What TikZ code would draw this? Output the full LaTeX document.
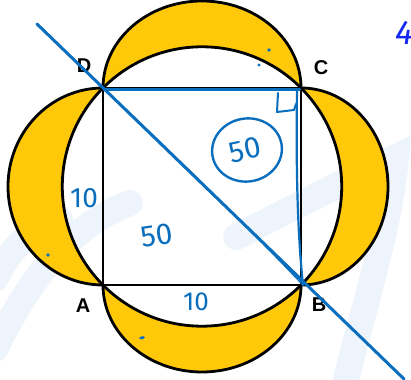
\documentclass[tikz,border=0pt]{standalone}
\usepackage{fontspec}
\usetikzlibrary{shapes.geometric}
\setmainfont{Liberation Sans}
\newfontfamily\handfont{Fira Sans}
\begin{document}
\begin{tikzpicture}[x=1pt,y=1pt,
  lune/.style={fill=lunefill},
  edge/.style={draw=black,line width=2.8pt},
  ink/.style={draw=inkblue,line width=2.4pt,line cap=round,line join=round},
  vlabel/.style={font=\fontsize{20}{20}\selectfont\bfseries,text=black,inner sep=0pt},
  hand/.style={font=\handfont\fontsize{30}{30}\selectfont,text=inkblue,inner sep=0pt},
  wmark/.style={draw=wmblue,line width=26pt,line cap=round}]
\definecolor{lunefill}{HTML}{FFC90A}
\definecolor{inkblue}{HTML}{0A6EBE}
\definecolor{wmblue}{HTML}{EDF4FB}
\definecolor{fourblue}{HTML}{1428F0}
\useasboundingbox (0,0) rectangle (411,379);
\clip (0,0) rectangle (411,379);
\fill[white] (0,0) rectangle (411,379);
\tikzset{wmpaths/.code={}}
\newcommand\wmdraw{%
  \draw[wmark] (236,142) .. controls (300,175) and (360,205) .. (396,222) .. controls (390,150) and (360,60) .. (345,-5);
  \draw[wmark] (-5,30) .. controls (20,80) and (60,150) .. (130,176);
  \draw[wmark] (-5,100) .. controls (10,130) and (30,150) .. (60,160);}
% square corners
\coordinate (A) at (103,94);
\coordinate (B) at (301,94);
\coordinate (C) at (301,291);
\coordinate (D) at (103,291);
\coordinate (O) at (202,192.5);
% watermark behind everything
\wmdraw
% half ellipses (yellow)
\fill[lune] (D) arc[start angle=180,end angle=0,x radius=99,y radius=87] -- cycle;
\fill[lune] (A) arc[start angle=180,end angle=360,x radius=99,y radius=87] -- cycle;
\fill[lune] (A) arc[start angle=270,end angle=90,x radius=95,y radius=98.5] -- cycle;
\fill[lune] (B) arc[start angle=-90,end angle=90,x radius=87,y radius=98.5] -- cycle;
% inner circle
\fill[white] (O) circle[radius=139.7];
\begin{scope}
  \clip (O) circle[radius=139.7];
  \wmdraw
\end{scope}
% outlines
\draw[edge] (D) arc[start angle=180,end angle=0,x radius=99,y radius=87];
\draw[edge] (A) arc[start angle=180,end angle=360,x radius=99,y radius=87];
\draw[edge] (A) arc[start angle=270,end angle=90,x radius=95,y radius=98.5];
\draw[edge] (B) arc[start angle=-90,end angle=90,x radius=87,y radius=98.5];
\draw[edge] (O) circle[radius=139.7];
\draw[edge] (A) -- (B) -- (C) -- (D) -- cycle;
% vertex labels
\node[vlabel] (lD) at (84,313) {D};
\node[vlabel] (lC) at (321,311) {C};
\node[vlabel] (lA) at (83,73) {A};
\node[vlabel] (lB) at (319,74) {B};
% blue annotations
\coordinate (L1) at (37,355);
\coordinate (L2) at (404,0);
\draw[ink,line width=3pt] (L1) -- (L2);
\draw[ink,line width=1.4pt] (104,290) .. controls (170,228) and (240,160) .. (303,94);
\draw[ink,line width=2.2pt] (104,289.5) -- (300,289.5);
\draw[ink,line width=2.2pt] (297,289) .. controls (296,220) and (297,150) .. (303,94);
\draw[ink,line width=2pt] (278,286) -- (277,267) -- (294,269) -- (296,275);
\node[draw=inkblue,line width=2.4pt,ellipse,minimum width=70pt,minimum height=63pt,rotate=10] (circ) at (247,229) {};
\node[hand,rotate=12] (n50a) at (245,229) {50};
\node[hand,rotate=8] (n50b) at (157,144) {50};
\node[hand,font=\handfont\fontsize{28}{28}\selectfont] (n10a) at (84,181) {10};
\node[hand,font=\handfont\fontsize{26}{26}\selectfont] (n10b) at (196,77) {10};
\node[hand,text=fourblue,font=\handfont\itshape\fontsize{34}{34}\selectfont] (n4) at (404,346) {4};
% dots
\fill[inkblue] (269,329) circle[radius=1.8];
\fill[inkblue] (259,314) circle[radius=1.6];
\fill[inkblue] (48,124) circle[radius=1.8];
\draw[ink,line width=2.6pt] (140.5,41) -- (143.5,41.5);
\end{tikzpicture}
\end{document}
